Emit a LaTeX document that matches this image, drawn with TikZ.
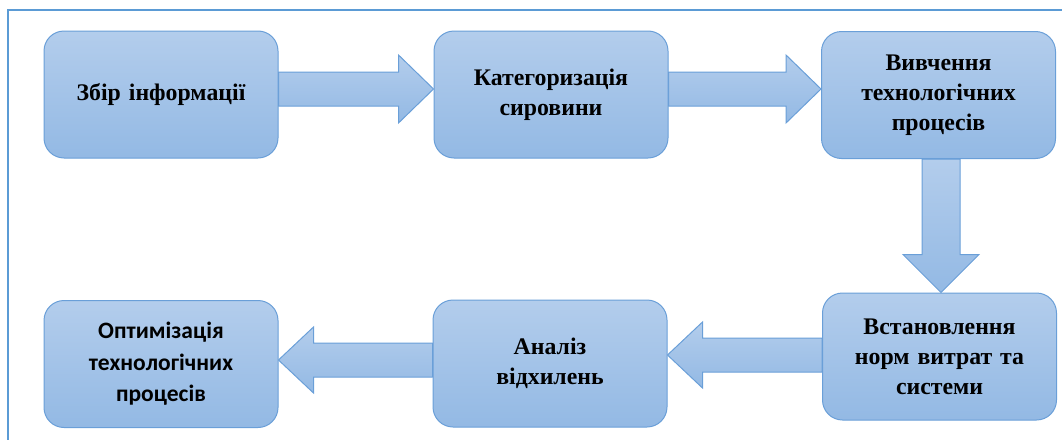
\documentclass[tikz,border=0pt]{standalone}
\usepackage{fontspec}
\setmainfont{Liberation Serif}
\newfontfamily\calibfont{Carlito}
\usetikzlibrary{calc}
\definecolor{boxtop}{HTML}{B3CDEC}
\definecolor{boxbot}{HTML}{93B9E4}
\definecolor{boxline}{HTML}{6A9FD8}
\definecolor{framecol}{HTML}{5B9BD5}
\pgfdeclarelayer{bg}
\pgfsetlayers{bg,main}
\tikzset{
  stagebox/.style={draw=boxline, line width=1pt, rounded corners=20pt,
    top color=boxtop, bottom color=boxbot,
    minimum width=234pt, minimum height=127pt, align=center,
    text width=215pt, inner sep=0pt,
    font=\bfseries\fontsize{23.8}{30}\selectfont},
  blockarrow/.style={draw=boxline, line width=1pt,
    top color=boxtop, bottom color=boxbot},
  framelines/.style={draw=framecol, line width=2.4pt}
}
% block arrows: #1 = tail point, #2 = tip point
\newcommand\rightblock[2]{%
  \path[blockarrow] let \p1=(#1), \p2=(#2) in
    (\x1,\y2+17pt) -- (\x2-35pt,\y2+17pt) -- (\x2-35pt,\y2+34pt) -- (\x2,\y2)
    -- (\x2-35pt,\y2-34pt) -- (\x2-35pt,\y2-17pt) -- (\x1,\y2-17pt) -- cycle;}
\newcommand\leftblock[2]{%
  \path[blockarrow] let \p1=(#1), \p2=(#2) in
    (\x1,\y2+17pt) -- (\x2+35pt,\y2+17pt) -- (\x2+35pt,\y2+33pt) -- (\x2,\y2)
    -- (\x2+35pt,\y2-33pt) -- (\x2+35pt,\y2-17pt) -- (\x1,\y2-17pt) -- cycle;}
\newcommand\downblock[2]{%
  \path[blockarrow] let \p1=(#1), \p2=(#2) in
    (\x2-19pt,\y1) -- (\x2-19pt,\y2+38pt) -- (\x2-38pt,\y2+38pt) -- (\x2,\y2)
    -- (\x2+38pt,\y2+38pt) -- (\x2+19pt,\y2+38pt) -- (\x2+19pt,\y1) -- cycle;}
\begin{document}
\begin{tikzpicture}[x=1pt,y=-1pt]
  \useasboundingbox (0,0) rectangle (1062,439);
  \draw[framelines] (8,445) -- (8,10) -- (1070,10);

  \node[stagebox] (b1) at (161,94.5)   {Збір інформації};
  \node[stagebox] (b2) at (551,94.5)   {Категоризація\\сировини};
  \node[stagebox] (b3) at (938.5,95)   {Вивчення\\технологічних\\процесів};
  \node[stagebox] (b6) at (939.5,356.5) {Встановлення\\норм витрат та\\системи};
  \node[stagebox] (b5) at (550,363.5)  {Аналіз\\відхилень};
  \node[stagebox, font=\calibfont\bfseries\fontsize{23.5}{31.5}\selectfont]
       (b4) at (161,364) {Оптимізація\\технологічних\\процесів};

  \begin{pgfonlayer}{bg}
    \rightblock{$(b1.east)+(0,-5.5)$}{$(b2.west)+(0,-5.5)$}
    \rightblock{$(b2.east)+(0,-5.5)$}{$(b3.west)+(0,-6)$}
    \downblock{$(b3.south)+(2.5,0)$}{$(b6.north)+(1.5,0)$}
    \leftblock{$(b6.west)+(0,-1.5)$}{$(b5.east)+(0,-8.5)$}
    \leftblock{$(b5.west)+(0,-3.5)$}{$(b4.east)+(0,-4)$}
  \end{pgfonlayer}
\end{tikzpicture}
\end{document}
